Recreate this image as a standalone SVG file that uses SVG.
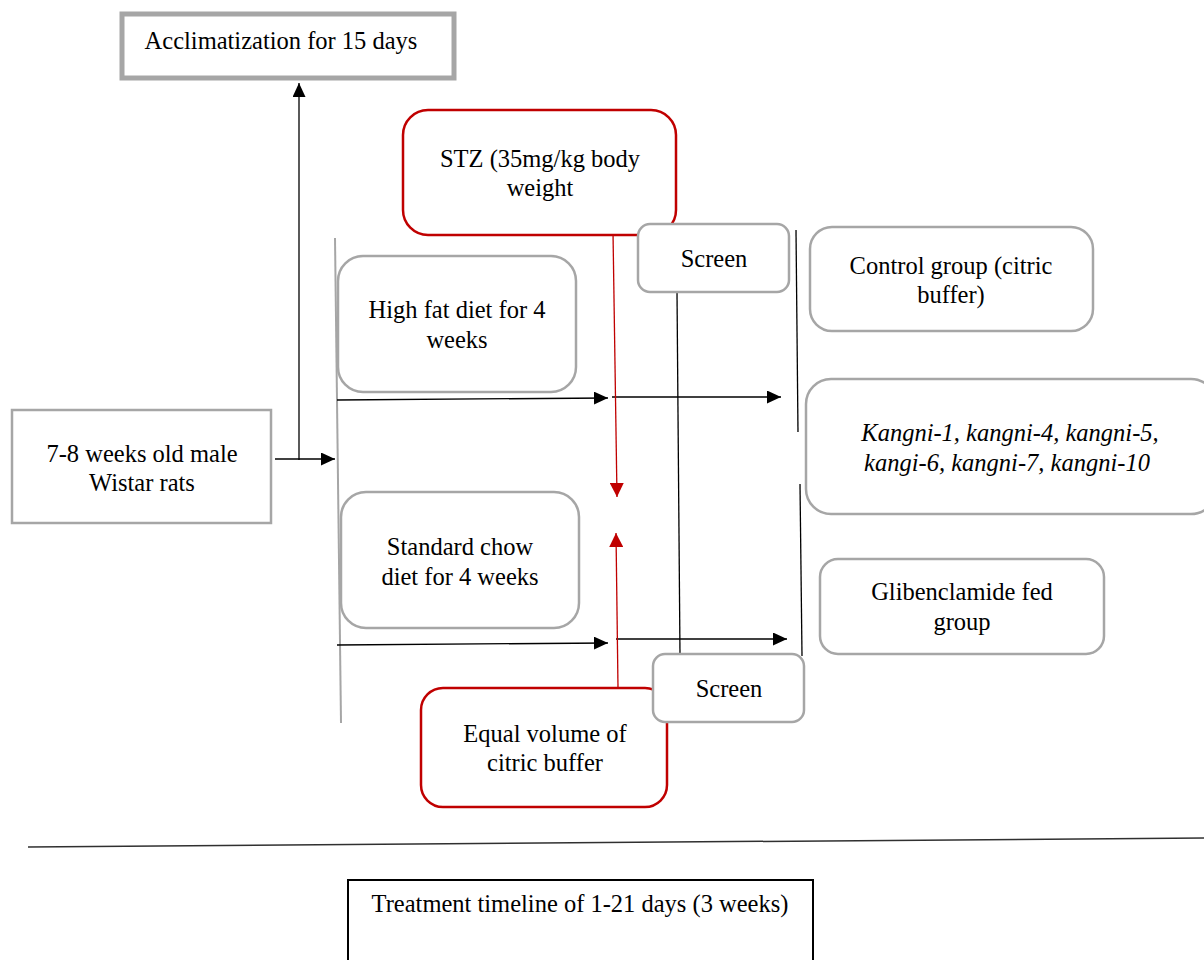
<svg xmlns="http://www.w3.org/2000/svg" width="1204" height="960" viewBox="0 0 1204 960">
<style>
text{font-family:"Liberation Serif","Times New Roman",serif;font-size:24.5px;fill:#000;text-anchor:middle}
.it{font-style:italic}
.g{fill:#fff;stroke:#a6a6a6;stroke-width:2.5}
.r{fill:#fff;stroke:#c00000;stroke-width:2.5}
.c{stroke:#000;stroke-width:1.3;fill:none}
.cr{stroke:#c00000;stroke-width:1.3;fill:none}
.gl{stroke:#a6a6a6;stroke-width:2;fill:none}
</style>
<defs>
<marker id="ab" viewBox="0 0 14 13" refX="14" refY="6.5" markerWidth="14" markerHeight="13" markerUnits="userSpaceOnUse" orient="auto"><path d="M0,0L14,6.5L0,13z" fill="#000"/></marker>
<marker id="ar" viewBox="0 0 14 14" refX="14" refY="7" markerWidth="14" markerHeight="14" markerUnits="userSpaceOnUse" orient="auto"><path d="M0,0L14,7L0,14z" fill="#c00000"/></marker>
</defs>
<g id="connectors">
<line class="c" x1="299" y1="460" x2="299" y2="83" marker-end="url(#ab)"/>
<line class="c" x1="275" y1="459" x2="335" y2="459" marker-end="url(#ab)"/>
<line class="gl" x1="335" y1="238" x2="341" y2="723"/>
<line class="c" x1="337" y1="400" x2="608" y2="398" marker-end="url(#ab)"/>
<line class="c" x1="612" y1="397" x2="781" y2="397" marker-end="url(#ab)"/>
<line class="c" x1="337" y1="645" x2="608" y2="643" marker-end="url(#ab)"/>
<line class="c" x1="616" y1="639" x2="787" y2="639" marker-end="url(#ab)"/>
<line class="cr" x1="613" y1="232" x2="617" y2="497" marker-end="url(#ar)"/>
<line class="cr" x1="618" y1="688" x2="616" y2="533" marker-end="url(#ar)"/>
<line class="c" x1="677" y1="292" x2="680" y2="655"/>
<line class="c" x1="796" y1="230" x2="798" y2="432"/>
<line class="c" x1="800" y1="484" x2="802" y2="656"/>
<line x1="28" y1="847" x2="1204" y2="838" stroke="#303030" stroke-width="1.5"/>
</g>
<g id="acclimatization">
<rect x="122" y="14" width="332" height="64" fill="#fff" stroke="#a6a6a6" stroke-width="5"/>
<text x="281" y="49">Acclimatization for 15 days</text>
</g>
<g id="rats">
<rect class="g" x="12" y="410" width="259" height="113"/>
<text x="142" y="462">7-8 weeks old male</text>
<text x="142" y="491">Wistar rats</text>
</g>
<g id="highfat">
<rect class="g" x="338" y="256" width="238" height="136" rx="25"/>
<text x="457" y="318">High fat diet for 4</text>
<text x="457" y="348">weeks</text>
</g>
<g id="chow">
<rect class="g" x="341" y="492" width="238" height="136" rx="25"/>
<text x="460" y="555">Standard chow</text>
<text x="460" y="585">diet for 4 weeks</text>
</g>
<g id="stz">
<rect class="r" x="403" y="110" width="273" height="125" rx="25"/>
<text x="540" y="167">STZ (35mg/kg body</text>
<text x="540" y="196">weight</text>
</g>
<g id="citric">
<rect class="r" x="421" y="688" width="246" height="119" rx="22"/>
<text x="545" y="742">Equal volume of</text>
<text x="545" y="771">citric buffer</text>
</g>
<g id="screen1">
<rect class="g" x="638" y="224" width="151" height="68" rx="12"/>
<text x="714" y="267">Screen</text>
</g>
<g id="screen2">
<rect class="g" x="653" y="654" width="151" height="68" rx="12"/>
<text x="729" y="697">Screen</text>
</g>
<g id="control">
<rect class="g" x="810" y="227" width="283" height="104" rx="22"/>
<text x="951" y="274">Control group (citric</text>
<text x="951" y="303">buffer)</text>
</g>
<g id="kangni">
<rect class="g" x="806" y="379" width="410" height="135" rx="25"/>
<text class="it" x="1010" y="441">Kangni-1, kangni-4, kangni-5,</text>
<text class="it" x="1007" y="471">kangi-6, kangni-7, kangni-10</text>
</g>
<g id="glibenclamide">
<rect class="g" x="820" y="559" width="284" height="95" rx="18"/>
<text x="962" y="600">Glibenclamide fed</text>
<text x="962" y="630">group</text>
</g>
<g id="treatment">
<rect x="348" y="880" width="465" height="90" fill="#fff" stroke="#000" stroke-width="2"/>
<text x="580" y="912">Treatment timeline of 1-21 days (3 weeks)</text>
</g>
</svg>
